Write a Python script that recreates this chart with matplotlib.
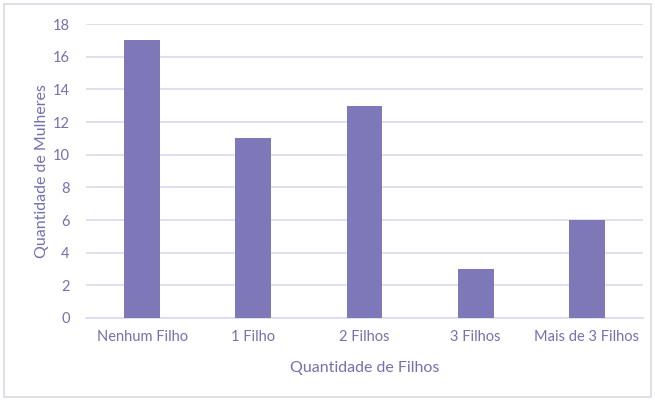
import matplotlib
matplotlib.use("Agg")
import matplotlib.pyplot as plt
from matplotlib.patches import Rectangle

# dados
categorias = ["Nenhum Filho", "1 Filho", "2 Filhos", "3 Filhos", "Mais de 3 Filhos"]
mulheres = [17, 11, 13, 3, 6]
yticks = [0, 2, 4, 6, 8, 10, 12, 14, 16, 18]

cor_barra = "#7F78B8"
cor_texto = "#7570B0"
cor_grade = "#DCD9EC"

plt.rcParams["font.family"] = ["Lato", "DejaVu Sans"]

fig = plt.figure(figsize=(6.55, 4.01), dpi=100)
ax = fig.add_axes([0.132, 0.207, 0.849, 0.733])

pos = list(range(len(categorias)))
ax.bar(pos, mulheres, width=0.32, color=cor_barra, zorder=3)

ax.set_xlim(-0.5, len(categorias) - 0.5)
ax.set_ylim(0, 18)
ax.set_yticks(yticks)
ax.set_xticks(pos)
ax.set_xticklabels(categorias)
ax.grid(axis="y", color=cor_grade, linewidth=1.2, zorder=0)

for s in ["top", "right", "left"]:
    ax.spines[s].set_visible(False)
ax.spines["bottom"].set_color(cor_grade)
ax.spines["bottom"].set_linewidth(1.2)
ax.tick_params(axis="both", length=0, colors=cor_texto, labelsize=10.5)
ax.tick_params(axis="x", pad=9)
ax.tick_params(axis="y", pad=12)

ax.set_xlabel("Quantidade de Filhos", color=cor_texto, fontsize=11.5, labelpad=12)
ax.set_ylabel("Quantidade de Mulheres", color=cor_texto, fontsize=11.5, labelpad=3)

# moldura do gráfico
fig.patches.append(Rectangle((4 / 655, 4 / 401), 647 / 655, 393 / 401,
                             transform=fig.transFigure, fill=False,
                             edgecolor="#D9D9E6", linewidth=1.2))

fig.savefig("out.png", dpi=100)
